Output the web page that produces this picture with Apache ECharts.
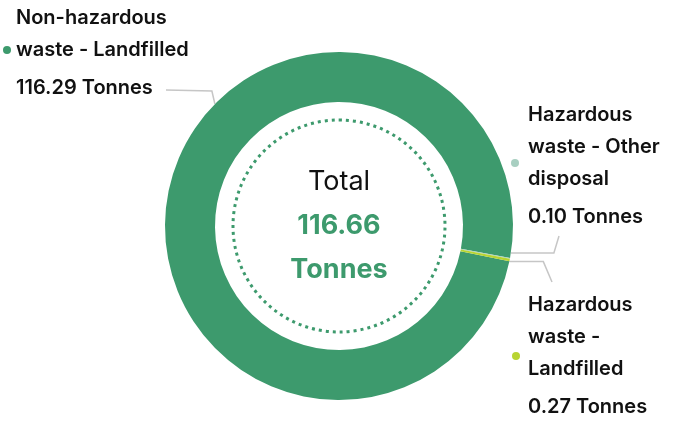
<!DOCTYPE html>
<html><head><meta charset="utf-8">
<script src="https://cdn.jsdelivr.net/npm/echarts@6/dist/echarts.min.js"></script>
<style>html,body{margin:0;padding:0;background:#fff}#c{width:680px;height:448px}</style>
</head><body><div id="c"></div>
<script>
const CATEGORIES = ['Non-hazardous waste - Landfilled', 'Hazardous waste - Other disposal', 'Hazardous waste - Landfilled'];
const LABEL_TEXT = ['Non-hazardous\nwaste - Landfilled', 'Hazardous\nwaste - Other\ndisposal', 'Hazardous\nwaste -\nLandfilled'];
const VALUES = [116.29, 0.10, 0.27];
const UNIT = 'Tonnes';
const TOTAL_LABEL = 'Total';
const COLORS = ['#3d9a6d', '#a8cfc1', '#b8d432'];

const CENTER = [339, 226];
const R_IN = 124, R_OUT = 174, R_DOT = 106;
const FONT = 'Inter, "Noto Sans", sans-serif';
const LABEL_BOX = [
  { x: 16, y: 2, angle: 135.5, elbow: [-3, -13], end: [166, 90], dot: [7, 50] },
  { x: 528, y: 99, angle: -8.9, elbow: [43, 0], end: [559, 236], dot: [515, 163] },
  { x: 528, y: 289, angle: -11.8, elbow: [34, 0], end: [552, 282], dot: [516, 356] }
];

const total = VALUES.reduce((a, b) => a + b, 0);
const chart = echarts.init(document.getElementById('c'), null, { renderer: 'canvas' });

function anchor(angleDeg) {
  const a = angleDeg * Math.PI / 180;
  return [CENTER[0] + R_OUT * Math.cos(a), CENTER[1] - R_OUT * Math.sin(a)];
}

chart.setOption({
  animation: false,
  backgroundColor: '#fff',
  legend: LABEL_BOX.map((b, i) => ({
    data: [CATEGORIES[i]],
    left: b.dot[0] - 4,
    top: b.dot[1] - 4,
    padding: 0,
    icon: 'circle',
    itemWidth: 8,
    itemHeight: 8,
    selectedMode: false,
    formatter: () => '',
    textStyle: { fontSize: 1 }
  })),
  series: [
    {
      type: 'pie',
      center: CENTER,
      radius: [R_IN, R_OUT],
      startAngle: 348.3,
      clockwise: true,
      avoidLabelOverlap: false,
      emphasis: { disabled: true },
      itemStyle: { borderWidth: 0 },
      label: {
        show: true,
        position: 'outside',
        fontFamily: FONT,
        formatter: p => LABEL_TEXT[p.dataIndex].split('\n').map(s => '{n|' + s + '}').join('\n') +
          '\n{v|' + p.value.toFixed(2) + ' ' + UNIT + '}',
        rich: {
          n: { fontFamily: FONT, fontSize: 20, fontWeight: 600, lineHeight: 32, color: '#111' },
          v: { fontFamily: FONT, fontSize: 20, fontWeight: 600, lineHeight: 44, color: '#111' }
        }
      },
      labelLine: { show: true, smooth: false, lineStyle: { color: '#c6c6c6', width: 1.5 } },
      labelLayout: function (p) {
        const b = LABEL_BOX[p.dataIndex];
        const a = anchor(b.angle);
        return {
          x: b.x, y: b.y, align: 'left', verticalAlign: 'top',
          labelLinePoints: [a, [a[0] + b.elbow[0], a[1] + b.elbow[1]], b.end]
        };
      },
      data: CATEGORIES.map((name, i) => ({ name, value: VALUES[i], itemStyle: { color: COLORS[i] } }))
    },
    {
      type: 'pie',
      center: CENTER,
      radius: [0, R_DOT],
      silent: true,
      emphasis: { disabled: true },
      itemStyle: { color: 'rgba(0,0,0,0)', borderColor: COLORS[0], borderWidth: 3, borderType: [3, 4] },
      label: {
        show: true,
        position: 'center',
        formatter: () => '{t|' + TOTAL_LABEL + '}\n{g|' + total.toFixed(2) + '}\n{g|' + UNIT + '}',
        rich: {
          t: { fontFamily: FONT, fontSize: 27, fontWeight: 400, lineHeight: 44, color: '#111' },
          g: { fontFamily: FONT, fontSize: 27, fontWeight: 700, lineHeight: 44, color: COLORS[0] }
        }
      },
      labelLine: { show: false },
      data: [{ name: 'ring', value: 1 }]
    }
  ]
});
</script></body></html>
